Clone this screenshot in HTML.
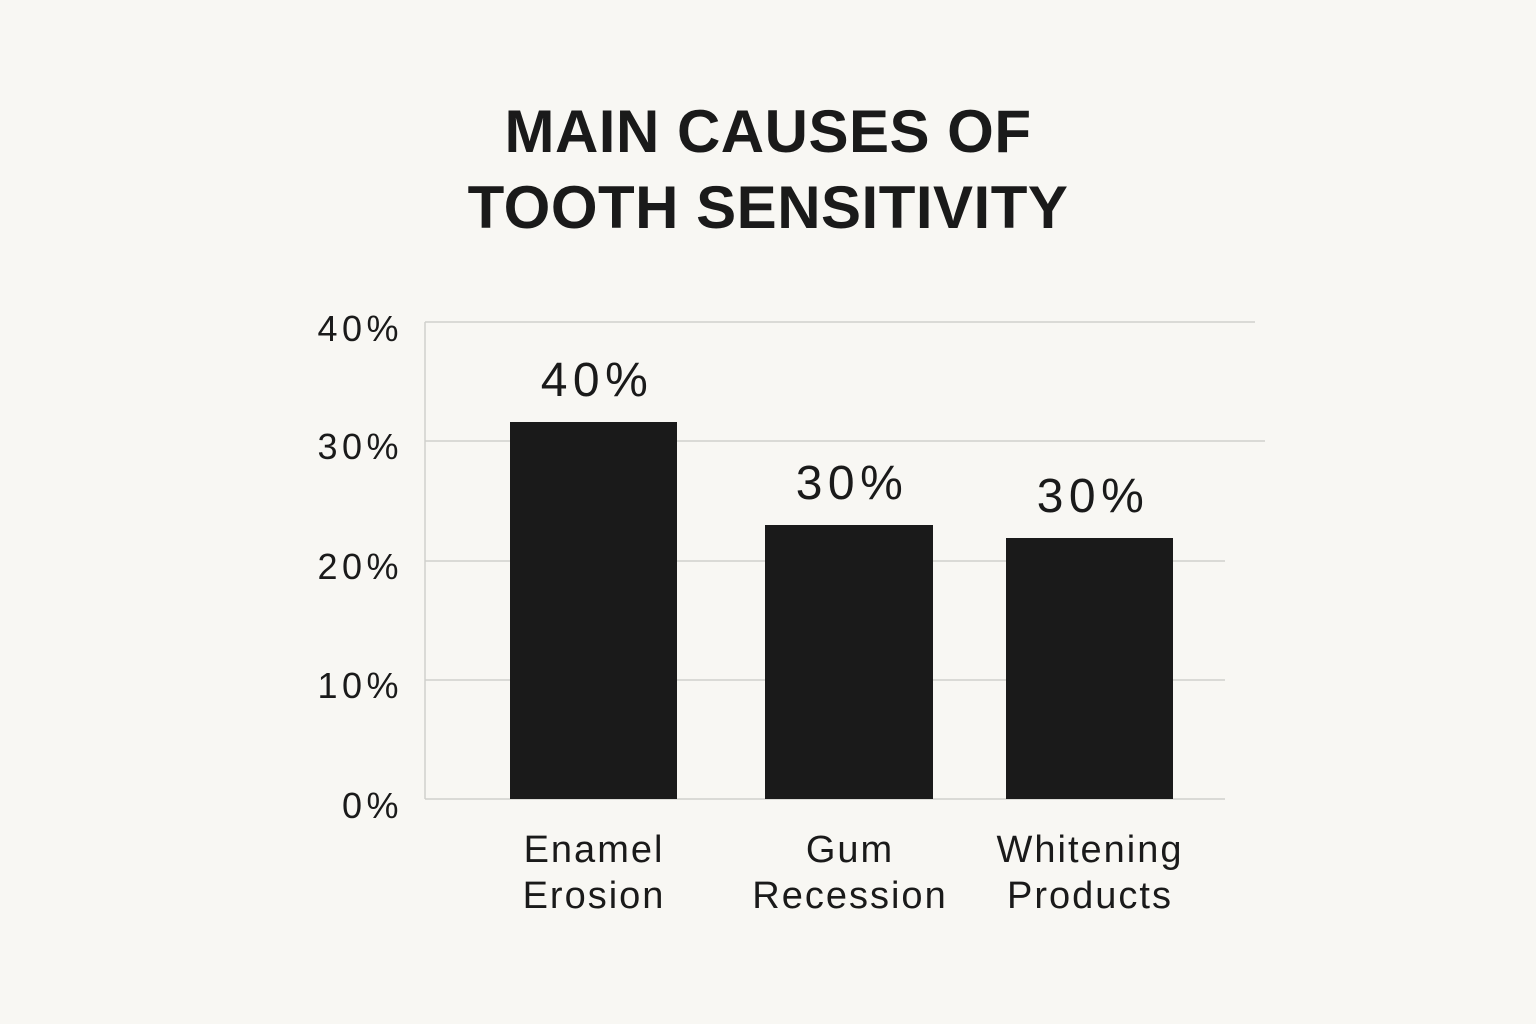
<!DOCTYPE html>
<html><head><meta charset="utf-8"><style>
html,body{margin:0;padding:0;background:#f8f7f3;}
svg{display:block;}
text{font-family:"Liberation Sans","DejaVu Sans",sans-serif;fill:#1a1a1a;}
</style></head><body>
<svg width="1536" height="1024" viewBox="0 0 1536 1024" xmlns="http://www.w3.org/2000/svg">
<rect width="1536" height="1024" fill="#f8f7f3"/>
<text x="768" y="152" font-size="60" font-weight="bold" text-anchor="middle" letter-spacing="0.5">MAIN CAUSES OF</text>
<text x="768" y="228" font-size="60" font-weight="bold" text-anchor="middle" letter-spacing="0.5">TOOTH SENSITIVITY</text>
<g stroke="#d0d0cc" stroke-width="1.5">
<line x1="425" y1="322" x2="1255" y2="322"/>
<line x1="425" y1="441" x2="1265" y2="441"/>
<line x1="425" y1="561" x2="1225" y2="561"/>
<line x1="425" y1="680" x2="1225" y2="680"/>
<line x1="425" y1="799" x2="1225" y2="799"/>
<line x1="425" y1="322" x2="425" y2="799"/>
</g>
<g font-size="36" text-anchor="end" letter-spacing="4.5">
<text x="403" y="341">40%</text>
<text x="403" y="459">30%</text>
<text x="403" y="579">20%</text>
<text x="403" y="698">10%</text>
<text x="403" y="818">0%</text>
</g>
<rect x="510" y="422" width="167" height="377" fill="#1a1a1a"/>
<rect x="765" y="525" width="168" height="274" fill="#1a1a1a"/>
<rect x="1006" y="538" width="167" height="261" fill="#1a1a1a"/>
<g font-size="48" text-anchor="middle" letter-spacing="5.5">
<text x="597" y="396">40%</text>
<text x="852" y="499">30%</text>
<text x="1093" y="512">30%</text>
</g>
<g font-size="38" text-anchor="middle" letter-spacing="2">
<text x="594" y="862">Enamel</text>
<text x="594" y="908">Erosion</text>
<text x="850" y="862">Gum</text>
<text x="850" y="908">Recession</text>
<text x="1090" y="862">Whitening</text>
<text x="1090" y="908">Products</text>
</g>
</svg>
</body></html>
